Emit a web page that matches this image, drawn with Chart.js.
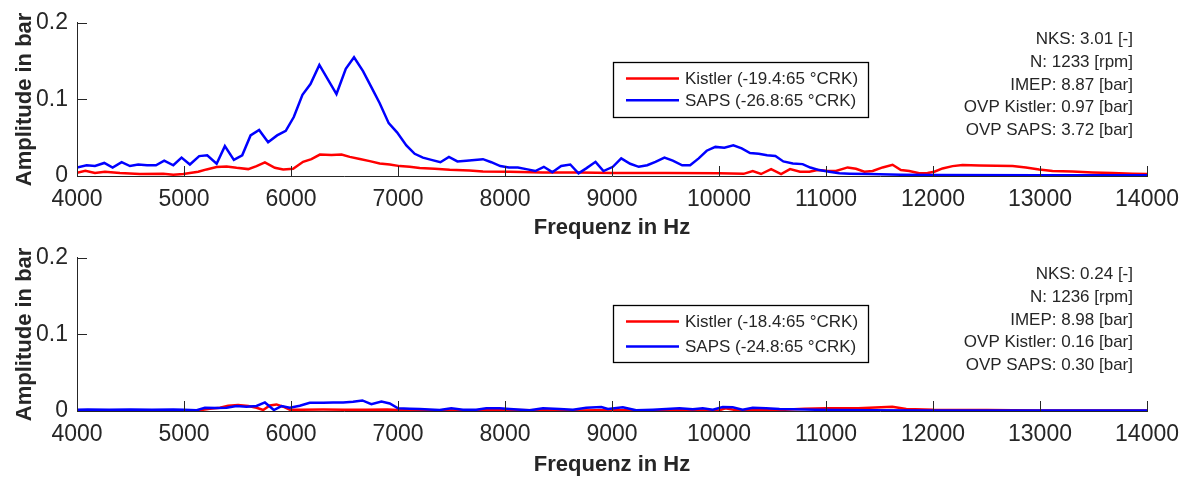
<!DOCTYPE html>
<html>
<head>
<meta charset="utf-8">
<script src="https://cdn.jsdelivr.net/npm/chart.js@4/dist/chart.umd.min.js"></script>
<style>
  html, body { margin: 0; padding: 0; background: #fff; }
  #wrap { position: relative; width: 1189px; height: 479px; overflow: hidden; }
  #wrap canvas { position: absolute; left: 0; }
</style>
</head>
<body>
<div id="wrap">
  <canvas id="spektrumOben" width="1189" height="240" style="top:0px"></canvas>
  <canvas id="spektrumUnten" width="1189" height="242" style="top:235px"></canvas>
</div>
<script>
// Achsen (gemeinsam fuer beide Diagramme)
const X_TICKS = [4000, 5000, 6000, 7000, 8000, 9000, 10000, 11000, 12000, 13000, 14000];
const Y_TICKS = [0, 0.1, 0.2];

// oberes Diagramm - klopfendes Arbeitsspiel
const oben_kistler_f = [4000, 4078, 4168, 4261, 4401, 4588, 4806, 4900, 4993, 5055, 5133, 5211, 5305, 5398, 5491, 5600, 5678, 5756, 5849, 5927, 6020, 6113, 6191, 6270, 6378, 6472, 6549, 6643, 6736, 6829, 6923, 7016, 7109, 7203, 7343, 7483, 7669, 7794, 8043, 8354, 8700, 9000, 9500, 10000, 10230, 10315, 10393, 10487, 10580, 10664, 10757, 10844, 10921, 11000, 11093, 11202, 11280, 11358, 11436, 11529, 11622, 11700, 11778, 11871, 11949, 12012, 12089, 12183, 12276, 12432, 12588, 12744, 12868, 12992, 13117, 13303, 13490, 13676, 13863, 14000];
const oben_kistler_a = [0.0043, 0.0069, 0.0039, 0.0056, 0.0039, 0.0026, 0.003, 0.0017, 0.0026, 0.0039, 0.0056, 0.0086, 0.0116, 0.0125, 0.0107, 0.009, 0.0129, 0.0177, 0.0107, 0.0086, 0.0094, 0.0185, 0.022, 0.028, 0.0275, 0.028, 0.025, 0.0223, 0.0194, 0.0164, 0.015, 0.0129, 0.012, 0.0103, 0.0094, 0.0082, 0.0073, 0.006, 0.0056, 0.0047, 0.0045, 0.004, 0.004, 0.0035, 0.0028, 0.0065, 0.0026, 0.009, 0.0026, 0.009, 0.0056, 0.0056, 0.0077, 0.0069, 0.0065, 0.0112, 0.0094, 0.0056, 0.0065, 0.0112, 0.0146, 0.0077, 0.0065, 0.0035, 0.0039, 0.0056, 0.0099, 0.0129, 0.0142, 0.0138, 0.0133, 0.0129, 0.0112, 0.0086, 0.0065, 0.006, 0.0047, 0.0039, 0.003, 0.0026];

const oben_saps_f = [4000, 4090, 4168, 4255, 4333, 4417, 4495, 4572, 4655, 4738, 4815, 4900, 4977, 5055, 5142, 5217, 5305, 5382, 5466, 5544, 5622, 5702, 5786, 5870, 5951, 6026, 6107, 6182, 6265, 6425, 6512, 6589, 6673, 6751, 6829, 6913, 6991, 7078, 7156, 7233, 7312, 7396, 7476, 7555, 7639, 7716, 7794, 7872, 7956, 8036, 8120, 8199, 8283, 8363, 8442, 8525, 8610, 8687, 8759, 8846, 8920, 9008, 9086, 9170, 9250, 9329, 9406, 9490, 9568, 9656, 9730, 9810, 9885, 9966, 10050, 10134, 10212, 10290, 10371, 10449, 10527, 10601, 10690, 10781, 10853, 10937, 11030, 11124, 11220, 11400, 11700, 12000, 13000, 14000];
const oben_saps_a = [0.011, 0.014, 0.013, 0.017, 0.011, 0.018, 0.013, 0.015, 0.014, 0.014, 0.02, 0.014, 0.024, 0.015, 0.026, 0.027, 0.016, 0.039, 0.021, 0.027, 0.053, 0.06, 0.044, 0.053, 0.059, 0.077, 0.106, 0.12, 0.145, 0.107, 0.14, 0.155, 0.137, 0.116, 0.095, 0.069, 0.057, 0.04, 0.029, 0.024, 0.021, 0.018, 0.025, 0.019, 0.02, 0.021, 0.022, 0.018, 0.013, 0.011, 0.011, 0.009, 0.0065, 0.012, 0.005, 0.013, 0.015, 0.0035, 0.01, 0.0185, 0.0065, 0.012, 0.023, 0.016, 0.012, 0.014, 0.0185, 0.024, 0.02, 0.014, 0.014, 0.023, 0.033, 0.038, 0.037, 0.04, 0.036, 0.03, 0.029, 0.027, 0.026, 0.019, 0.0164, 0.0155, 0.011, 0.0077, 0.0056, 0.0035, 0.003, 0.0025, 0.0017, 0.0012, 0.001, 0.001];

// unteres Diagramm - nicht klopfendes Arbeitsspiel
const unten_kistler_f = [4000, 4300, 4600, 4900, 5149, 5242, 5336, 5413, 5506, 5600, 5678, 5740, 5802, 5864, 5927, 5989, 6100, 6300, 6500, 6700, 6900, 7000, 7300, 7600, 8000, 8300, 8700, 9000, 9300, 9700, 10000, 10060, 10150, 10400, 10600, 10800, 11000, 11300, 11620, 11750, 12000, 12500, 13000, 14000];
const unten_kistler_a = [0.001, 0.0008, 0.0008, 0.0008, 0.001, 0.003, 0.0043, 0.0069, 0.0077, 0.0065, 0.0043, 0.0013, 0.0073, 0.0086, 0.0056, 0.0017, 0.0017, 0.002, 0.0017, 0.0015, 0.002, 0.0013, 0.001, 0.0008, 0.0013, 0.001, 0.0008, 0.0013, 0.0008, 0.001, 0.0008, 0.0035, 0.0013, 0.001, 0.0015, 0.003, 0.0035, 0.0035, 0.0055, 0.0025, 0.0015, 0.0012, 0.0008, 0.0005];

const unten_saps_f = [4000, 4100, 4300, 4500, 4700, 4900, 5000, 5118, 5195, 5305, 5398, 5491, 5584, 5678, 5756, 5840, 5911, 5989, 6082, 6175, 6300, 6394, 6487, 6580, 6667, 6751, 6845, 6923, 7000, 7110, 7202, 7389, 7498, 7607, 7730, 7825, 7950, 8043, 8230, 8355, 8510, 8635, 8759, 8900, 8962, 9101, 9226, 9382, 9506, 9630, 9755, 9848, 9942, 10035, 10128, 10221, 10315, 10440, 10565, 10700, 10900, 11100, 11400, 12000, 13000, 14000];
const unten_saps_a = [0.0015, 0.002, 0.0015, 0.002, 0.0015, 0.0018, 0.0015, 0.001, 0.0043, 0.004, 0.0043, 0.0065, 0.0056, 0.0065, 0.0112, 0.0013, 0.0065, 0.0043, 0.0069, 0.0108, 0.0108, 0.011, 0.011, 0.012, 0.0138, 0.009, 0.0125, 0.0099, 0.0035, 0.003, 0.0026, 0.0013, 0.0035, 0.0017, 0.0017, 0.0035, 0.0035, 0.0026, 0.0009, 0.0035, 0.0026, 0.0017, 0.0043, 0.0052, 0.0026, 0.0048, 0.0009, 0.0017, 0.0026, 0.0035, 0.0022, 0.0035, 0.0017, 0.0052, 0.0048, 0.0017, 0.0043, 0.0035, 0.0026, 0.0022, 0.0017, 0.0013, 0.001, 0.0008, 0.0008, 0.0008];

// Legenden- und Kennwerttexte
const oben_labels = ['Kistler (-19.4:65 °CRK)', 'SAPS (-26.8:65 °CRK)'];
const unten_labels = ['Kistler (-18.4:65 °CRK)', 'SAPS (-24.8:65 °CRK)'];
const oben_kennwerte = ['NKS: 3.01 [-]', 'N: 1233 [rpm]', 'IMEP: 8.87 [bar]', 'OVP Kistler: 0.97 [bar]', 'OVP SAPS: 3.72 [bar]'];
const unten_kennwerte = ['NKS: 0.24 [-]', 'N: 1236 [rpm]', 'IMEP: 8.98 [bar]', 'OVP Kistler: 0.16 [bar]', 'OVP SAPS: 0.30 [bar]'];

const KISTLER_COLOR = '#ff0000';
const SAPS_COLOR = '#0000ff';
const AXIS_COLOR = '#262626';
const FONT_FAMILY = "'Liberation Sans', Arial, sans-serif";

function toPoints(freqs, amps) {
    return freqs.map((f, i) => ({ x: f, y: amps[i] }));
}

// Tickmarks nach innen wie in MATLAB
const innerTicks = {
    id: 'innerTicks',
    afterDraw(chart) {
        const { ctx, chartArea, scales } = chart;
        const len = 10;
        ctx.save();
        ctx.strokeStyle = AXIS_COLOR;
        ctx.lineWidth = 1;
        ctx.beginPath();
        scales.x.ticks.forEach(t => {
            const px = Math.round(scales.x.getPixelForValue(t.value)) + 0.5;
            ctx.moveTo(px, chartArea.bottom);
            ctx.lineTo(px, chartArea.bottom - len);
        });
        scales.y.ticks.forEach(t => {
            const py = Math.round(scales.y.getPixelForValue(t.value)) + 0.5;
            ctx.moveTo(chartArea.left, py);
            ctx.lineTo(chartArea.left + len, py);
        });
        ctx.stroke();
        ctx.restore();
    }
};

// Legende mit Rahmen, frei positioniert
const legendBox = {
    id: 'legendBox',
    afterDraw(chart, args, o) {
        const ctx = chart.ctx;
        ctx.save();
        ctx.fillStyle = '#fff';
        ctx.fillRect(o.x, o.y, o.w, o.h);
        ctx.strokeStyle = '#000';
        ctx.lineWidth = 1.3;
        ctx.strokeRect(o.x + 0.5, o.y + 0.5, o.w, o.h);
        ctx.font = '17px ' + FONT_FAMILY;
        ctx.textBaseline = 'middle';
        ctx.textAlign = 'left';
        chart.data.datasets.forEach((ds, i) => {
            const y = o.y + o.row0 + i * o.rowGap;
            ctx.strokeStyle = ds.borderColor;
            ctx.lineWidth = 2.5;
            ctx.beginPath();
            ctx.moveTo(o.x + 13, y);
            ctx.lineTo(o.x + 66, y);
            ctx.stroke();
            ctx.fillStyle = AXIS_COLOR;
            ctx.fillText(ds.label, o.x + 72, y + 1);
        });
        ctx.restore();
    }
};

// Kennwerte rechts oben, rechtsbuendig
const kennwerte = {
    id: 'kennwerte',
    afterDraw(chart, args, o) {
        const ctx = chart.ctx;
        ctx.save();
        ctx.font = '17px ' + FONT_FAMILY;
        ctx.fillStyle = AXIS_COLOR;
        ctx.textAlign = 'right';
        ctx.textBaseline = 'middle';
        o.lines.forEach((txt, i) => ctx.fillText(txt, o.right, o.top + i * o.gap));
        ctx.restore();
    }
};

function initSpektrum(canvasId, kistlerData, sapsData, labels, lines, legendTop, legendHeight, rowGap) {
    const canvas = document.getElementById(canvasId);
    const xAxisHeight = canvas.height - 176;

    const config = {
        type: 'line',
        data: {
            datasets: [
                {
                    label: labels[0],
                    data: kistlerData,
                    borderColor: KISTLER_COLOR,
                    borderWidth: 2.5,
                    pointRadius: 0,
                    tension: 0,
                    order: 1
                }, {
                    label: labels[1],
                    data: sapsData,
                    borderColor: SAPS_COLOR,
                    borderWidth: 2.5,
                    pointRadius: 0,
                    tension: 0,
                    order: 0
                }
            ]
        },
        options: {
            responsive: false,
            animation: false,
            devicePixelRatio: 1,
            layout: { padding: { left: 0, right: 41, top: 21, bottom: 0 } },
            plugins: {
                legend: { display: false },
                tooltip: { enabled: false },
                legendBox: { x: 613, y: legendTop, w: 255, h: legendHeight, row0: 16.5, rowGap: rowGap },
                kennwerte: { lines: lines, right: 1133, top: 39.5, gap: 22.75 }
            },
            scales: {
                x: {
                    type: 'linear',
                    min: 4000,
                    max: 14000,
                    afterBuildTicks: scale => { scale.ticks = X_TICKS.map(v => ({ value: v })); },
                    afterFit: scale => { scale.height = xAxisHeight; },
                    grid: { display: false, drawTicks: false },
                    border: { display: true, color: AXIS_COLOR, width: 1 },
                    ticks: {
                        color: AXIS_COLOR,
                        padding: 10,
                        maxRotation: 0,
                        autoSkip: false,
                        font: { family: FONT_FAMILY, size: 23 },
                        callback: v => String(v)
                    },
                    title: {
                        display: true,
                        text: 'Frequenz in Hz',
                        color: AXIS_COLOR,
                        padding: { top: 0, bottom: 1 },
                        font: { family: FONT_FAMILY, size: 22, weight: 'bold', lineHeight: 1 }
                    }
                },
                y: {
                    min: 0,
                    max: 0.2,
                    afterBuildTicks: scale => { scale.ticks = Y_TICKS.map(v => ({ value: v })); },
                    afterFit: scale => { scale.width = 77; },
                    grid: { display: false, drawTicks: false },
                    border: { display: true, color: AXIS_COLOR, width: 1 },
                    ticks: {
                        color: AXIS_COLOR,
                        padding: 9,
                        font: { family: FONT_FAMILY, size: 23 },
                        callback: v => String(v)
                    },
                    title: {
                        display: true,
                        text: 'Amplitude in bar',
                        color: AXIS_COLOR,
                        padding: { top: 12, bottom: 0 },
                        font: { family: FONT_FAMILY, size: 22, weight: 'bold' }
                    }
                }
            }
        },
        plugins: [innerTicks, legendBox, kennwerte]
    };

    return new Chart(canvas.getContext('2d'), config);
}

initSpektrum('spektrumOben',
    toPoints(oben_kistler_f, oben_kistler_a),
    toPoints(oben_saps_f, oben_saps_a),
    oben_labels, oben_kennwerte, 62, 55, 21.7);

initSpektrum('spektrumUnten',
    toPoints(unten_kistler_f, unten_kistler_a),
    toPoints(unten_saps_f, unten_saps_a),
    unten_labels, unten_kennwerte, 70, 57, 25);
</script>
</body>
</html>
